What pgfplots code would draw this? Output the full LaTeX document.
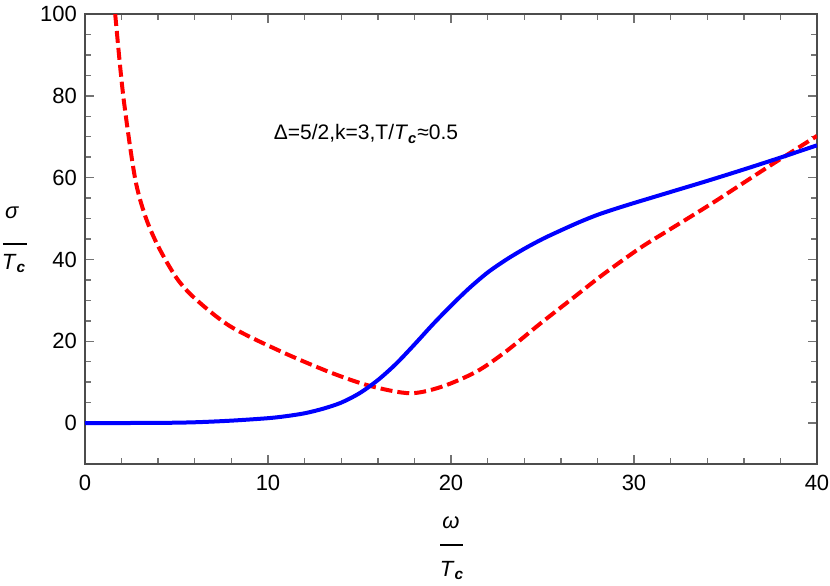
\documentclass[border=0pt]{standalone}
\usepackage{fontspec}
\setmainfont{Liberation Sans}
\usepackage{pgfplots}
\pgfplotsset{compat=1.18}

\begin{document}
\begin{tikzpicture}
% page size: 830x585 px at 0.5pt per px
\path[use as bounding box] (-42.5pt,-60.5pt) rectangle (372.5pt,232pt);
\begin{axis}[
	at={(0,0)}, anchor=south west,
	scale only axis,
	width=366pt, height=225pt,
	xmin=0, xmax=40, ymin=-10, ymax=100,
	xtick={0,10,...,40}, ytick={0,20,...,100},
	minor x tick num=4, minor y tick num=3,
	tick style={black!55, line width=0.7pt},
	major tick length=4.5pt, minor tick length=3pt,
	axis line style={black!70, line width=0.6pt},
	/pgf/number format/assume math mode=true,
	tick label style={font=\fontsize{11}{13}\selectfont},
	xticklabel style={yshift=-2pt},
	yticklabel style={xshift=-0.5pt},
]
% red dashed curve
\addplot[red, line width=2pt, dash pattern=on 6pt off 2.5pt, smooth] coordinates {
	(1.65,100) (2.09,80) (2.73,60) (3.3,50.5) (4.0,43.2) (5.0,35.5) (6.0,30.5)
	(7.92,23.7) (10.66,17.6) (13.4,12.4) (15.57,9.1) (17.76,7.3) (19.5,8.9)
	(21.4,12.6) (23.0,17.5) (24.9,24.4) (26.7,30.7) (28.3,36.3) (30.3,42.7)
	(31.8,46.9) (33.0,50.2) (34.5,54.4) (37.25,62.4) (40,70.2)};
% blue solid curve
\addplot[blue, line width=2pt, smooth] coordinates {
	(0,0) (4,0.05) (6,0.2) (8,0.6) (10,1.2) (11,1.7) (12,2.4) (13,3.5)
	(14,5.0) (15,7.3) (16,10.5) (17,14.5) (18,19.2) (19,24.1) (20,28.7)
	(21,33.0) (22,36.8) (23,39.9) (24,42.6) (25,45.0) (26,47.1) (27,49.1)
	(28,50.9) (29,52.4) (30,53.8) (32,56.5) (34,59.2) (36,62.0) (38,64.9)
	(40,67.9)};
\end{axis}
% annotation
\node[font=\fontsize{10.5}{12}\selectfont] at (140.5pt,165pt)
	{Δ=5/2,k=3,T/\textit{T}\textsubscript{\textbf{\textit{c}}}≈0.5};
% y label
\node[anchor=base, inner sep=0pt, font=\fontsize{11}{13}\selectfont] at (-36.5pt,123pt) {\textit{σ}};
\draw[line width=1pt] (-41pt,110pt) -- (-29pt,110pt);
\node[anchor=base, inner sep=0pt, font=\fontsize{11}{13}\selectfont] at (-35.5pt,97.5pt) {\textit{T}\textsubscript{\textbf{\textit{c}}}};
% x label
\node[anchor=base, inner sep=0pt, font=\fontsize{11}{13}\selectfont] at (183pt,-32pt) {\textit{ω}};
\draw[line width=1pt] (177.5pt,-40.5pt) -- (189pt,-40.5pt);
\node[anchor=base, inner sep=0pt, font=\fontsize{11}{13}\selectfont] at (183.5pt,-56pt) {\textit{T}\textsubscript{\textbf{\textit{c}}}};
\end{tikzpicture}
\end{document}
